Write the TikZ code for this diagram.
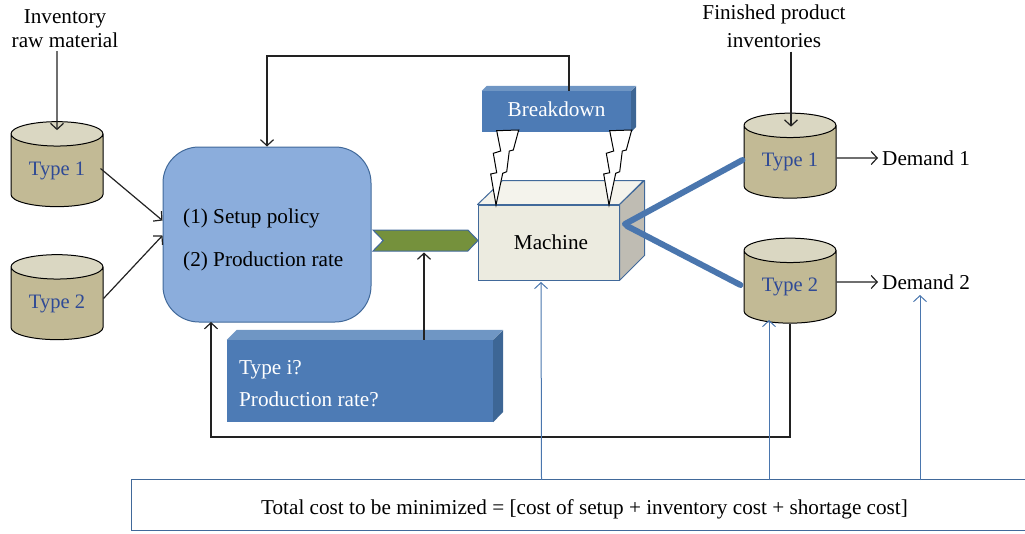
\documentclass[tikz,border=0pt]{standalone}
\usepackage{fontspec}
\setmainfont{Liberation Serif}
\usetikzlibrary{shapes.geometric,shapes.symbols,arrows.meta,calc}
\definecolor{edgeblue}{HTML}{41699A}
\definecolor{barblue}{HTML}{4A76AE}
\definecolor{faceblue}{HTML}{4D7BB5}
\definecolor{topblue}{HTML}{6F96C4}
\definecolor{sideblue}{HTML}{3D6695}
\definecolor{softblue}{HTML}{8BADDC}
\definecolor{khaki}{HTML}{C2BA95}
\definecolor{khakitop}{HTML}{DAD7C2}
\definecolor{labelblue}{HTML}{2F4A96}
\definecolor{machfront}{HTML}{ECEBE0}
\definecolor{machside}{HTML}{BFBCB3}
\definecolor{chevgreen}{HTML}{75913C}
\definecolor{linegrey}{HTML}{222222}
\newcommand{\dfont}{\fontsize{21.2}{24}\selectfont}
\tikzset{
  txt/.style={font=\dfont,inner sep=0pt,text=black},
  drum/.style={cylinder,shape border rotate=90,draw=black,line width=1pt,
    shape aspect=0.435,minimum width=92pt,minimum height=85pt,inner sep=0pt,
    cylinder uses custom fill,cylinder body fill=khaki,cylinder end fill=khakitop,
    font=\fontsize{20.5}{24}\selectfont,text=labelblue},
  flow/.style={draw=linegrey,line width=1.2pt,-{Straight Barb[length=6pt,width=13pt,line width=1.2pt]}},
  cost/.style={draw=barblue,line width=1pt,-{Straight Barb[length=6pt,width=13pt,line width=1pt]}},
  bar/.style={draw=barblue,line width=6pt,line cap=round},
  front/.style={draw=none,fill=faceblue,inner sep=0pt},
  bolt/.pic={\draw[fill=white,draw=black,line width=1pt,line join=miter]
    (496.7,130.7)--(500.7,151)--(493.3,153.3)--(496.7,172.7)--(490.7,174)--(496,205)
    --(502.7,173.3)--(506.7,171.7)--(509.3,151)--(513.3,150)--(518.7,130)--cycle;}
}
\begin{document}
\begin{tikzpicture}[x=1pt,y=-1pt]
\useasboundingbox (0,0) rectangle (1025,533);

% labels
\node[txt,align=center] (rawlab) at (65,29) {Inventory\\raw material};
\node[txt,align=center] (finlab) at (774,26) {Finished product\\[4pt]inventories};

% drums
\node[drum] (l1) at (57,170.5) {\raisebox{-1pt}{Type 1}};
\node[drum] (l2) at (57,303.5) {\raisebox{-1pt}{Type 2}};
\node[drum] (r1) at (790,162) {\raisebox{-2pt}{Type 1}};
\node[drum] (r2) at (790,287) {\raisebox{-2pt}{Type 2}};

% controller
\node[draw=edgeblue,fill=softblue,line width=1pt,rounded corners=36pt,minimum width=208pt,minimum height=175pt,inner sep=0pt] (ctrl) at (267,234.5) {};
\node[txt,anchor=west] (pol) at (183,218) {(1) Setup policy};
\node[txt,anchor=west] (rate) at (183,261) {(2) Production rate};

% machine
\node[draw=edgeblue,fill=machfront,line width=1pt,minimum width=141pt,minimum height=75pt,inner sep=0pt,font=\dfont] (mach) at (548.5,242.5) {\hspace*{5pt}Machine};
\draw[edgeblue,line width=1pt,fill=machfront!60!white,line join=round] (mach.north west)--++(25,-24)--++(141,0)--(mach.north east)--cycle;
\draw[edgeblue,line width=1pt,fill=machside,line join=round] (mach.north east)--++(25,-24)--++(0,75)--(mach.south east)--cycle;

% breakdown
\node[front,minimum width=149pt,minimum height=41pt,text=white,font=\dfont] (brk) at (556.5,111.5) {\raisebox{4pt}{Breakdown}};
\fill[topblue] (brk.north west)--++(5,-5)--++(149,0)--(brk.north east)--cycle;
\fill[sideblue] (brk.north east)--++(5,-5)--++(0,41)--(brk.south east)--cycle;
\pic {bolt};
\pic[xshift=113pt] {bolt};

% decision box
\node[front,minimum width=266pt,minimum height=82pt] (dec) at (360,381) {};
\fill[topblue] (dec.north west)--++(10,-10)--++(266,0)--(dec.north east)--cycle;
\fill[sideblue] (dec.north east)--++(10,-10)--++(0,82)--(dec.south east)--cycle;
\node[txt,anchor=west,text=white] (q1) at (239,370) {Type i?};
\node[txt,anchor=west,text=white] (q2) at (239,399) {Production rate?};

% chevron
\node[signal,signal to=east,signal from=west,signal pointer angle=92,draw=edgeblue,fill=chevgreen,line width=1pt,minimum width=105pt,minimum height=21pt,inner sep=0pt] (chev) at (425.5,240.5) {};

% cost box
\node[minimum width=893pt,minimum height=50pt,inner sep=0pt] (tot) at (578.5,505) {};
\node[txt] (totlab) at (584.5,509) {Total cost to be minimized = [cost of setup + inventory cost + shortage cost]};
\draw[edgeblue,line width=1pt] (tot.north east)--(tot.north west)--(tot.south west)--(tot.south east);

% demand labels
\node[txt,anchor=west] (d1) at (882,158) {Demand 1};
\node[txt,anchor=west] (d2) at (882,282) {Demand 2};

% connectors
\draw[flow] ($(rawlab.south -| l1.center)+(0,3)$) -- ($(l1.north)+(0,9)$);
\draw[flow] ($(r1.north)+(1,-61)$) -- ($(r1.north)+(1,14)$);
\draw[flow] ($(l1.east)+(-3,-2)$) -- ($(ctrl.west)+(0,-14)$);
\draw[flow] ($(l2.east)+(0,-5)$) -- ($(ctrl.west)+(0,1)$);
\draw[flow] (brk.north -| 569,86) |- (267,56) -- (ctrl.north);
\draw[flow] (dec.north -| chev.south) ++(-1.5,0) -- ($(chev.south)+(-1.5,1)$);
\draw[flow] (r2.south) |- (211,437) -- (211,322);
\draw[flow,shorten >=4pt] ($(r1.east)+(0,-4)$) -- (d1.west);
\draw[flow,shorten >=4pt] ($(r2.east)+(0,-5)$) -- (d2.west);
\draw[bar] (625,224) -- ($(r1.west)+(-1,-2)$);
\draw[bar] (627,226) -- ($(r2.west)+(-3,-2)$);
\draw[cost] (tot.north -| mach.south) ++(-7,0) -- (541,282);
\draw[cost] (769,480) -- (769,320);
\draw[cost] (920,480) -- (920,295);
\end{tikzpicture}
\end{document}
